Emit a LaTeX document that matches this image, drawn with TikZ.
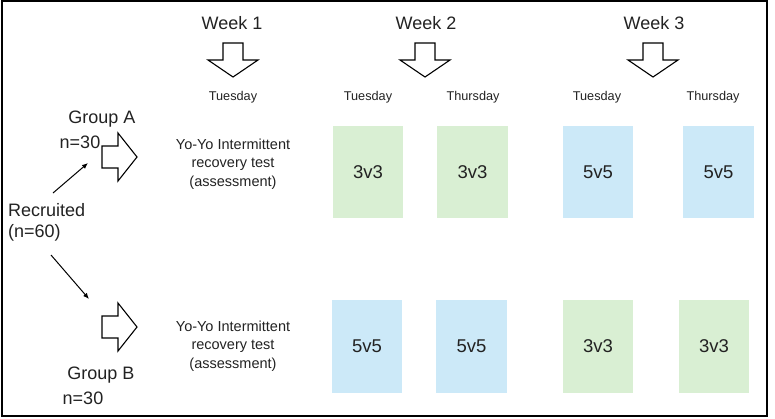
\documentclass[tikz,border=0pt]{standalone}
\usepackage{fontspec}
\setmainfont{Liberation Sans}
\usetikzlibrary{arrows.meta}
\definecolor{boxgreen}{HTML}{D9EFD3}
\definecolor{boxblue}{HTML}{CCE9F8}
\definecolor{txt}{HTML}{222222}
\begin{document}
\begin{tikzpicture}[x=1pt,y=-1pt,
  wk/.style={font=\fontsize{18}{20}\selectfont, inner sep=0pt, text=txt},
  big/.style={font=\fontsize{18}{21}\selectfont, inner sep=0pt, text=txt},
  day/.style={font=\fontsize{12.7}{14}\selectfont, inner sep=0pt, text=txt},
  test/.style={font=\fontsize{14.5}{18.5}\selectfont, inner sep=0pt, align=center, text=txt},
  sess/.style={font=\fontsize{18.5}{20}\selectfont, text=txt, minimum height=92pt, draw=none},
  gbox/.style={sess, fill=boxgreen},
  bbox/.style={sess, fill=boxblue},
  darr/.pic={\draw[line width=1.1pt, fill=white] (-10,-34) -- (10,-34) -- (10,-17) -- (25,-17) -- (0,0) -- (-25,-17) -- (-10,-17) -- cycle;},
  rarr/.pic={\draw[line width=1.1pt, fill=white] (-35,-11) -- (-19,-11) -- (-19,-24) -- (0,0) -- (-19,24) -- (-19,11) -- (-35,11) -- cycle;},
  conn/.style={line width=1pt, -{Latex[length=6pt,width=5pt]}}
]
\useasboundingbox (0,0) rectangle (775,418);
\draw[line width=1.5pt] (2,1) rectangle (767,416);

% week headers
\node[wk] (w1) at (232,23) {Week 1};
\node[wk] (w2) at (426,23) {Week 2};
\node[wk] (w3) at (654,23) {Week 3};
\pic at (233,77) {darr};
\pic at (425,77) {darr};
\pic at (653,77) {darr};

% day labels
\node[day] (d1) at (233,97) {Tuesday};
\node[day] (d2) at (368,97) {Tuesday};
\node[day] (d3) at (473,97) {Thursday};
\node[day] (d4) at (597,97) {Tuesday};
\node[day] (d5) at (713,97) {Thursday};

% group labels
\node[big] (ga) at (102,119) {Group A};
\node[big] (na) at (80,142) {n=30};
\node[big] (gb) at (101,375) {Group B};
\node[big] (nb) at (83,398) {n=30};
\node[big, align=left, anchor=west] (rec) at (8,222.5) {Recruited\\(n=60)};

% block arrows
\pic at (137,157) {rarr};
\pic at (137,327) {rarr};

% connectors
\coordinate (r1s) at (53,193);
\coordinate (r1e) at (88,163);
\coordinate (r2s) at (51,255);
\coordinate (r2e) at (89,299);
\draw[conn] (r1s) -- (r1e);
\draw[conn] (r2s) -- (r2e);

% tests
\node[test] (ta) at (233,164) {Yo-Yo Intermittent\\recovery test\\(assessment)};
\node[test] (tb) at (233,346) {Yo-Yo Intermittent\\recovery test\\(assessment)};

% sessions group A
\node[gbox, minimum width=70pt] (a1) at (368,172) {3v3};
\node[gbox, minimum width=71pt] (a2) at (472.5,172) {3v3};
\node[bbox, minimum width=70pt] (a3) at (598,172) {5v5};
\node[bbox, minimum width=71pt] (a4) at (718.5,172) {5v5};

% sessions group B
\node[bbox, minimum width=70pt, minimum height=93pt] (b1) at (367,346.5) {5v5};
\node[bbox, minimum width=71pt, minimum height=93pt] (b2) at (471.5,346.5) {5v5};
\node[gbox, minimum width=70pt, minimum height=93pt] (b3) at (598,346.5) {3v3};
\node[gbox, minimum width=70pt, minimum height=93pt] (b4) at (714,346.5) {3v3};
\end{tikzpicture}
\end{document}
